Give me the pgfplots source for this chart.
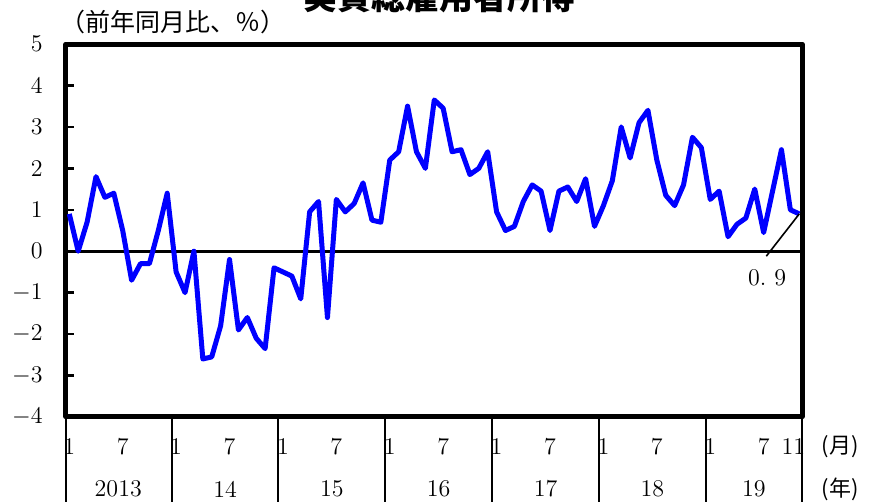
\documentclass[border=0pt]{standalone}
\usepackage{fontspec}
\usepackage{pgfplots}
\pgfplotsset{compat=1.18}
\newfontfamily\cjk{Noto Sans CJK JP}
\definecolor{lineblue}{RGB}{0,0,255}
\begin{document}
\begin{tikzpicture}
\begin{axis}[
  at={(0,0)}, anchor=south west,
  scale only axis, width=368pt, height=186.5pt,
  xmin=-0.37, xmax=82.31, ymin=-4, ymax=5,
  axis line style={line width=2.5pt, line join=round},
  ytick={-4,-3,...,5}, ytick pos=left, tick align=inside,
  major tick length=4pt,
  ytick style={line width=1.2pt, black},
  yticklabel style={anchor=east, inner sep=0pt, xshift=-11.5pt, font=\fontsize{12}{14}\selectfont},
  xtick={0,6,12,18,24,30,36,42,48,54,60,66,72,78},
  xticklabels={1,7,1,7,1,7,1,7,1,7,1,7,1,7},
  extra x ticks={82}, extra x tick labels={11},
  extra x tick style={xticklabel style={xshift=-3pt}},
  xtick style={draw=none},
  xticklabel style={anchor=center, yshift=-15pt, font=\fontsize{12}{14}\selectfont},
  clip=false,
]
\draw[line width=1.5pt, black] (axis cs:-0.37,0) -- (axis cs:82.31,0);
\addplot[lineblue, line width=2.5pt, line join=round, mark=none] table[x=i, y=v] {
i v
0 0.9
1 0.0
2 0.7
3 1.8
4 1.3
5 1.4
6 0.5
7 -0.7
8 -0.3
9 -0.3
10 0.5
11 1.4
12 -0.5
13 -1.0
14 0.0
15 -2.6
16 -2.55
17 -1.8
18 -0.2
19 -1.9
20 -1.6
21 -2.1
22 -2.35
23 -0.4
24 -0.5
25 -0.6
26 -1.15
27 0.95
28 1.2
29 -1.6
30 1.25
31 0.95
32 1.15
33 1.65
34 0.75
35 0.7
36 2.2
37 2.4
38 3.5
39 2.4
40 2.0
41 3.65
42 3.45
43 2.4
44 2.45
45 1.85
46 2.0
47 2.4
48 0.95
49 0.5
50 0.6
51 1.2
52 1.6
53 1.45
54 0.5
55 1.45
56 1.55
57 1.2
58 1.75
59 0.6
60 1.1
61 1.7
62 3.0
63 2.25
64 3.1
65 3.4
66 2.2
67 1.35
68 1.1
69 1.6
70 2.75
71 2.5
72 1.25
73 1.45
74 0.35
75 0.65
76 0.8
77 1.5
78 0.45
79 1.45
80 2.45
81 1.0
82 0.9
};
% leader line and annotation
\draw[black, line width=0.8pt] (axis cs:82,0.9) -- (axis cs:78.3,-0.12);
\node[font=\fontsize{12}{14}\selectfont] at (axis cs:78.4,-0.65) {0.\,\,9};
% year separators
\pgfplotsinvokeforeach{-0.37,11.5,23.5,35.5,47.5,59.5,71.5,82.31}{
  \draw[line width=1pt, black] (axis cs:#1,-4) -- ([yshift=-45pt]axis cs:#1,-4);
}
% year labels
\node[font=\fontsize{12}{14}\selectfont, yshift=-36pt] at (axis cs:5.5,-4) {2013};
\node[font=\fontsize{12}{14}\selectfont, yshift=-36pt] at (axis cs:17.5,-4) {14};
\node[font=\fontsize{12}{14}\selectfont, yshift=-36pt] at (axis cs:29.5,-4) {15};
\node[font=\fontsize{12}{14}\selectfont, yshift=-36pt] at (axis cs:41.5,-4) {16};
\node[font=\fontsize{12}{14}\selectfont, yshift=-36pt] at (axis cs:53.5,-4) {17};
\node[font=\fontsize{12}{14}\selectfont, yshift=-36pt] at (axis cs:65.5,-4) {18};
\node[font=\fontsize{12}{14}\selectfont, yshift=-36pt] at (axis cs:76.9,-4) {19};
\end{axis}
\node[font=\cjk\fontsize{11}{12}\selectfont] at (387pt,-15pt) {(月)};
\node[font=\cjk\fontsize{11}{12}\selectfont] at (387pt,-36pt) {(年)};
\node[font=\cjk\fontsize{12.5}{14}\selectfont] at (53.5pt,197.5pt) {（前年同月比、％）};
\node[font=\cjk\bfseries\fontsize{17}{19}\selectfont] at (186.5pt,210pt) {実質総雇用者所得};
\pgfresetboundingbox
\path[use as bounding box] (-33pt,-42.5pt) rectangle (406pt,208.5pt);
\end{tikzpicture}
\end{document}
